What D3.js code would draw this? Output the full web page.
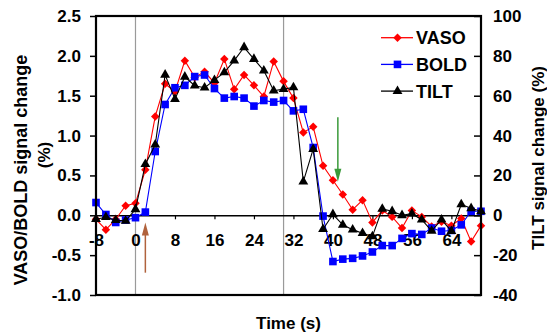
<!DOCTYPE html>
<html>
<head>
<meta charset="utf-8">
<script src="https://cdn.jsdelivr.net/npm/d3@7"></script>
<style>
  body { margin: 0; background: #fff; }
  svg text { font-family: "Liberation Sans", Arial, sans-serif; font-weight: bold; fill: #000; }
</style>
</head>
<body>
<svg id="chart" width="547" height="334"></svg>
<script>
// Time points (s) relative to stimulus onset
const times = [-8, -6, -4, -2, 0, 2, 4, 6, 8, 10, 12, 14, 16, 18, 20, 22, 24, 26, 28, 30,
               32, 34, 36, 38, 40, 42, 44, 46, 48, 50, 52, 54, 56, 58, 60, 62, 64, 66, 68, 70];

// VASO signal change (%), left axis
const vaso = [-0.05, -0.18, -0.05, 0.12, 0.15, 0.57, 1.24, 1.65, 1.55, 1.94,
              1.73, 1.80, 1.66, 1.96, 1.58, 1.76, 1.63, 1.49, 1.93, 1.68,
              1.47, 1.04, 1.11, 0.62, 0.44, 0.26, 0.07, 0.19, -0.09, 0.06,
              -0.02, -0.16, 0.06, -0.02, -0.14, -0.08, -0.13, -0.04, -0.33, -0.13];

// BOLD signal change (%), left axis
const bold = [0.16, 0.01, -0.09, -0.06, -0.03, 0.04, 0.80, 1.39, 1.60, 1.63,
              1.74, 1.76, 1.59, 1.47, 1.49, 1.47, 1.37, 1.44, 1.42, 1.44,
              1.31, 1.33, 0.85, -0.01, -0.58, -0.55, -0.54, -0.51, -0.46, -0.38,
              -0.38, -0.29, -0.23, -0.24, -0.16, -0.20, -0.19, -0.12, 0.05, 0.05];

// TILT signal change (%), right axis
const tilt = [-2.0, -1.0, -2.5, -2.8, 3.0, 25.6, 35.4, 70.5, 58.3, 69.5,
              65.0, 64.0, 67.8, 71.7, 77.6, 84.3, 78.4, 72.6, 62.5, 63.3,
              64.2, 16.9, 33.2, -7.0, 0.5, -4.8, -7.2, -9.0, -10.6, 3.2,
              2.0, 0.0, 0.8, -2.2, -7.8, -2.2, -8.0, 5.4, 3.5, 2.0];

// Axis ticks
const xTicks = [-8, 0, 8, 16, 24, 32, 40, 48, 56, 64];
const leftTicks = [-1.0, -0.5, 0.0, 0.5, 1.0, 1.5, 2.0, 2.5];
const rightTicks = [-40, -20, 0, 20, 40, 60, 80, 100];

// Stimulus block boundaries (s) and arrow annotations
const stimBounds = [0, 30];
const arrows = [
  { t: 2,  from: -0.72, to: -0.09, color: "#b0623c" },
  { t: 41, from: 1.23,  to: 0.42,  color: "#3a9a3a" }
];

const svg = d3.select("#chart");
const L = 96, R = 481, T = 16, B = 295;

const x = d3.scaleLinear().domain([-8, 70]).range([L, R]);
const yL = d3.scaleLinear().domain([-1.0, 2.5]).range([B, T]);
const yR = d3.scaleLinear().domain([-40, 100]).range([B, T]);

const FS = 17;

// stimulus on/off lines
svg.append("g").selectAll("line").data(stimBounds).join("line")
  .attr("x1", d => x(d)).attr("x2", d => x(d))
  .attr("y1", T).attr("y2", B)
  .attr("stroke", "#9a9a9a").attr("stroke-width", 1.2);

// horizontal time axis through zero
const xAxis = svg.append("g")
  .attr("transform", `translate(0,${yL(0)})`)
  .call(d3.axisBottom(x).tickValues(xTicks).tickFormat(d => String(d))
        .tickSize(4).tickSizeOuter(0).tickPadding(15));
xAxis.select(".domain").attr("stroke", "#000").attr("stroke-width", 1.5);
xAxis.selectAll(".tick line").attr("stroke", "#000").attr("stroke-width", 1.2);
xAxis.selectAll("text").style("font-size", FS + "px").attr("fill", "#000");

// arrows
arrows.forEach(a => {
  const y0 = yL(a.from), y1 = yL(a.to);
  const dir = y1 < y0 ? 1 : -1;
  const headLen = 13, headW = 3.5;
  svg.append("line")
    .attr("x1", x(a.t)).attr("x2", x(a.t))
    .attr("y1", y0).attr("y2", y1 + dir * headLen * 0.8)
    .attr("stroke", a.color).attr("stroke-width", 1.5);
  svg.append("path")
    .attr("d", `M${x(a.t)},${y1} L${x(a.t) - headW},${y1 + dir * headLen} L${x(a.t) + headW},${y1 + dir * headLen} Z`)
    .attr("fill", a.color);
});

// series
const series = [
  { name: "VASO", values: vaso, scale: yL, color: "#ff0000",
    symbol: d3.symbol().type(d3.symbolSquare).size(36), rot: 45 },
  { name: "BOLD", values: bold, scale: yL, color: "#0000ff",
    symbol: d3.symbol().type(d3.symbolSquare).size(58), rot: 0 },
  { name: "TILT", values: tilt, scale: yR, color: "#000000",
    symbol: d3.symbol().type(d3.symbolTriangle).size(42), rot: 0 }
];

series.forEach(s => {
  const pts = times.map((t, i) => [x(t), s.scale(s.values[i])]);
  const g = svg.append("g");
  g.append("path")
    .attr("d", d3.line()(pts))
    .attr("fill", "none").attr("stroke", s.color).attr("stroke-width", 1.1);
  g.selectAll("path.m").data(pts).join("path").attr("class", "m")
    .attr("d", s.symbol())
    .attr("transform", d => `translate(${d[0]},${d[1]}) rotate(${s.rot})`)
    .attr("fill", s.color);
});

// frame
svg.append("rect")
  .attr("x", L).attr("y", T).attr("width", R - L).attr("height", B - T)
  .attr("fill", "none").attr("stroke", "#000").attr("stroke-width", 2.2);

// left axis
const lAxis = svg.append("g").attr("transform", `translate(${L},0)`)
  .call(d3.axisLeft(yL).tickValues(leftTicks).tickFormat(d => d.toFixed(1))
        .tickSize(6).tickSizeOuter(0).tickPadding(9));
lAxis.select(".domain").remove();
lAxis.selectAll(".tick line").attr("stroke", "#000").attr("stroke-width", 1.5);
lAxis.selectAll("text").style("font-size", FS + "px").attr("fill", "#000");

// right axis (ticks inside)
const rAxis = svg.append("g").attr("transform", `translate(${R},0)`)
  .call(d3.axisRight(yR).tickValues(rightTicks).tickFormat(d => String(d))
        .tickSize(-7).tickSizeOuter(0).tickPadding(12));
rAxis.select(".domain").remove();
rAxis.selectAll(".tick line").attr("stroke", "#000").attr("stroke-width", 1.5);
rAxis.selectAll("text").style("font-size", FS + "px").attr("fill", "#000")
  .attr("x", 12);

// axis titles
svg.append("text")
  .attr("transform", `translate(27,170) rotate(-90)`)
  .attr("text-anchor", "middle").style("font-size", "18px")
  .text("VASO/BOLD signal change");
svg.append("text")
  .attr("transform", `translate(50,155) rotate(-90)`)
  .attr("text-anchor", "middle").style("font-size", "17px")
  .text("(%)");
svg.append("text")
  .attr("transform", `translate(544,158) rotate(-90)`)
  .attr("text-anchor", "middle").style("font-size", "17px")
  .text("TILT signal change (%)");
svg.append("text")
  .attr("x", (L + R) / 2).attr("y", 329)
  .attr("text-anchor", "middle").style("font-size", "17px")
  .text("Time (s)");

// legend
const legend = svg.append("g");
series.forEach((s, i) => {
  const ly = 37.7 + i * 26.7;
  legend.append("line")
    .attr("x1", 381).attr("x2", 413).attr("y1", ly).attr("y2", ly)
    .attr("stroke", s.color).attr("stroke-width", 1.3);
  legend.append("path")
    .attr("d", s.symbol())
    .attr("transform", `translate(397.5,${ly}) rotate(${s.rot})`)
    .attr("fill", s.color);
  legend.append("text")
    .attr("x", 416).attr("y", ly + 6.5)
    .style("font-size", "18px")
    .text(s.name);
});
</script>
</body>
</html>
